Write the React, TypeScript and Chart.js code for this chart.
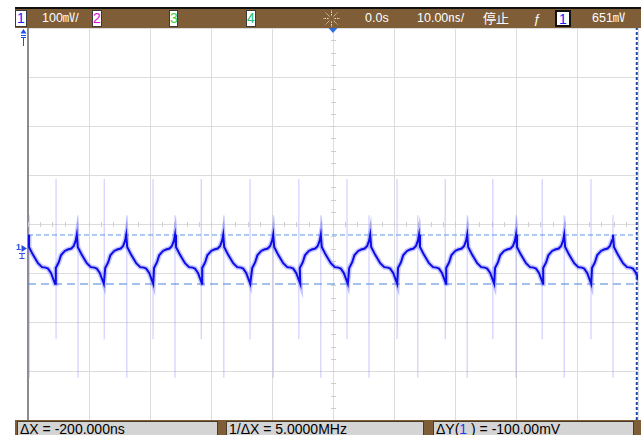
import React, { useEffect, useRef } from "react";
import { Chart, registerables } from "chart.js";

Chart.register(...registerables);

// Time axis in ns (10 ns/div), voltage axis in mV (100 mV/div)
const X_MIN = -50;
const X_MAX = 50;
const Y_MIN = -400;
const Y_MAX = 400;
const X_STEP = 10;
const Y_STEP = 100;

// Waveform: times of each peak (ns)
const peakTimes = [-50.0, -42.0, -33.9, -25.9, -18.0, -9.8, -2.0, 6.1, 14.1, 22.0, 30.0, 37.9, 45.9, 53.9];
// falling part after each peak (ns after peak, mV)
const fallOffsets = [0, 0.16, 0.82, 1.64, 2.3, 2.9, 3.28, 3.77, 4.43];
const fallValues = [-22, -47, -63, -80, -88, -89, -91, -100, -122];
// rising part before the next peak (ns before peak, mV)
const riseOffsets = [-3.44, -2.95, -2.6, -1.97, -1.48, -0.9, -0.5, -0.16];
const riseValues = [-90, -78, -64, -55, -52, -50, -45, -33];

// glitch spikes (ns) and their extent (mV)
const tallSpikeTimes = [-45.4, -37.5, -29.5, -21.6, -13.6, -5.6, 2.3, 10.5, 18.4, 26.2, 34.3, 42.3];
const tallSpikeTop = 92;
const tallSpikeBottom = -235;
const shortSpikeTimes = [-49.8, -41.8, -33.8, -25.9, -17.9, -9.8, -2.0, 5.9, 13.9, 22.0, 30.0, 37.9, 45.9];
const shortSpikeTop = 18;
const shortSpikeBottom = -314;

// cursors
const cursorY = [-22.4, -122.4];
const cursorX = 49.8;
const groundLevel = -53;

const BROWN = "#7e5d37";

const decor = {
  id: "decor",
  beforeDatasetsDraw(chart: any) {
    const { ctx } = chart;
    const xs = chart.scales.x;
    const ys = chart.scales.y;
    ctx.save();
    ctx.strokeStyle = "#cfcfcf";
    ctx.lineWidth = 1;
    const y0 = Math.round(ys.getPixelForValue(0)) + 0.5;
    for (let v = X_MIN; v <= X_MAX; v += 2) {
      const px = Math.round(xs.getPixelForValue(v)) + 0.5;
      ctx.beginPath();
      ctx.moveTo(px, y0 - 2.5);
      ctx.lineTo(px, y0 + 2.5);
      ctx.stroke();
    }
    const x0 = Math.round(xs.getPixelForValue(0)) + 0.5;
    for (let v = Y_MIN; v <= Y_MAX; v += 25) {
      const py = Math.round(ys.getPixelForValue(v)) + 0.5;
      ctx.beginPath();
      ctx.moveTo(x0 - 2.5, py);
      ctx.lineTo(x0 + 2.5, py);
      ctx.stroke();
    }
    ctx.restore();
  },
  afterDraw(chart: any) {
    const { ctx, chartArea } = chart;
    const xs = chart.scales.x;
    const ys = chart.scales.y;
    ctx.save();
    // trigger position marker
    const tx = xs.getPixelForValue(0);
    ctx.fillStyle = "#2a6fe0";
    ctx.beginPath();
    ctx.moveTo(tx - 4.5, chartArea.top);
    ctx.lineTo(tx + 4.5, chartArea.top);
    ctx.lineTo(tx, chartArea.top + 5);
    ctx.closePath();
    ctx.fill();
    // trigger level marker (top-left)
    ctx.fillStyle = "#1f4fe8";
    ctx.strokeStyle = "#1f4fe8";
    ctx.beginPath();
    ctx.moveTo(20.5, 33.5);
    ctx.lineTo(26.5, 33.5);
    ctx.lineTo(23.5, 29);
    ctx.closePath();
    ctx.fill();
    ctx.lineWidth = 1;
    ctx.beginPath();
    ctx.moveTo(21, 35.5);
    ctx.lineTo(26, 35.5);
    ctx.moveTo(21, 37.5);
    ctx.lineTo(26, 37.5);
    ctx.moveTo(23.5, 37.5);
    ctx.lineTo(23.5, 46);
    ctx.stroke();
    // channel 1 ground marker
    const gy = ys.getPixelForValue(groundLevel);
    ctx.fillStyle = "#2a4fe0";
    ctx.font = "bold 9px 'Liberation Sans'";
    ctx.textBaseline = "middle";
    ctx.fillText("1", 16, gy - 2);
    ctx.beginPath();
    ctx.moveTo(21.5, gy - 5);
    ctx.lineTo(27, gy - 1.5);
    ctx.lineTo(21.5, gy + 2);
    ctx.closePath();
    ctx.fill();
    ctx.strokeStyle = "#2a4fe0";
    ctx.beginPath();
    ctx.moveTo(19, gy + 3.5);
    ctx.lineTo(25, gy + 3.5);
    ctx.moveTo(22, gy + 3.5);
    ctx.lineTo(22, gy + 8);
    ctx.moveTo(19.5, gy + 8.5);
    ctx.lineTo(24.5, gy + 8.5);
    ctx.stroke();
    ctx.restore();
  },
};

function buildTrace() {
  const pts: { x: number; y: number }[] = [];
  for (let i = 0; i < peakTimes.length; i++) {
    const p = peakTimes[i];
    fallOffsets.forEach((o, k) => pts.push({ x: p + o, y: fallValues[k] }));
    if (i + 1 < peakTimes.length) {
      const n = peakTimes[i + 1];
      riseOffsets.forEach((o, k) => pts.push({ x: n + o, y: riseValues[k] }));
    }
  }
  return pts;
}

function spikes(times: number[], top: number, bottom: number) {
  const pts: { x: number; y: number | null }[] = [];
  times.forEach((t) => {
    pts.push({ x: t, y: top });
    pts.push({ x: t, y: bottom });
    pts.push({ x: t, y: null });
  });
  return pts;
}

export default function App() {
  const ref = useRef<HTMLCanvasElement>(null);

  useEffect(() => {
    if (!ref.current) return;
    const trace = buildTrace();
    const line = (extra: any) => ({
      showLine: true,
      pointRadius: 0,
      fill: false,
      tension: 0,
      spanGaps: false,
      ...extra,
    });
    const chart = new Chart(ref.current, {
      type: "scatter",
      data: {
        datasets: [
          line({ data: trace, borderColor: "#0c0ce8", borderWidth: 2, order: 0 }),
          line({ data: trace, borderColor: "rgba(110,110,255,0.4)", borderWidth: 5, order: 1 }),
          line({
            data: [
              { x: X_MIN, y: cursorY[0] },
              { x: X_MAX, y: cursorY[0] },
            ],
            borderColor: "#5a98ea",
            borderWidth: 1,
            borderDash: [5, 3],
            order: 2,
          }),
          line({
            data: [
              { x: X_MIN, y: cursorY[1] },
              { x: X_MAX, y: cursorY[1] },
            ],
            borderColor: "#4a84dc",
            borderWidth: 1.2,
            borderDash: [8, 5],
            order: 2,
          }),
          line({
            data: [
              { x: cursorX, y: Y_MIN },
              { x: cursorX, y: Y_MAX },
            ],
            borderColor: "#1c4aa8",
            borderWidth: 2,
            borderDash: [3, 2],
            order: 2,
          }),
          line({
            data: spikes(tallSpikeTimes, tallSpikeTop, tallSpikeBottom),
            borderColor: "rgba(150,150,255,0.45)",
            borderWidth: 1.2,
            order: 3,
          }),
          line({
            data: spikes(shortSpikeTimes, shortSpikeTop, shortSpikeBottom),
            borderColor: "rgba(150,150,255,0.45)",
            borderWidth: 1.2,
            order: 3,
          }),
        ],
      },
      options: {
        animation: false,
        responsive: false,
        devicePixelRatio: 1,
        events: [],
        layout: { padding: { left: 28, top: 28, right: 3, bottom: 15 } },
        plugins: { legend: { display: false }, tooltip: { enabled: false } },
        scales: {
          x: {
            type: "linear",
            min: X_MIN,
            max: X_MAX,
            ticks: { display: false, stepSize: X_STEP },
            grid: { color: "#dcdcdc", lineWidth: 1, drawTicks: false },
            border: { display: false },
          },
          y: {
            type: "linear",
            min: Y_MIN,
            max: Y_MAX,
            ticks: { display: false, stepSize: Y_STEP },
            grid: { color: "#dcdcdc", lineWidth: 1, drawTicks: false },
            border: { display: true, color: "#8c8c8c", width: 2 },
          },
        },
      },
      plugins: [decor],
    });
    return () => chart.destroy();
  }, []);

  const font = "'Liberation Sans', 'Noto Sans CJK JP', sans-serif";
  const topText = (left: number, text: React.ReactNode, extra: any = {}) => (
    <span
      style={{
        position: "absolute",
        left,
        top: 9,
        height: 19,
        lineHeight: "19px",
        color: "#ffffff",
        fontFamily: font,
        fontSize: 12.5,
        whiteSpace: "nowrap",
        ...extra,
      }}
    >
      {text}
    </span>
  );
  const chBox = (left: number, width: number, label: string, color: string, border = "1px solid #3a3a3a") => (
    <div
      style={{
        position: "absolute",
        left,
        top: 10,
        width,
        height: 17,
        boxSizing: "border-box",
        border,
        background: "#ffffff",
        color,
        fontFamily: font,
        fontSize: 14,
        lineHeight: "15px",
        textAlign: "center",
      }}
    >
      {label}
    </div>
  );
  const botBox = (left: number, width: number, content: React.ReactNode) => (
    <div
      style={{
        position: "absolute",
        left,
        top: 421,
        width,
        height: 18,
        boxSizing: "border-box",
        border: "1px solid #4a3c2c",
        background: "#d4d4d4",
        color: "#000",
        fontFamily: font,
        fontSize: 14,
        lineHeight: "15px",
        paddingLeft: 2,
        whiteSpace: "nowrap",
      }}
    >
      {content}
    </div>
  );

  const rays = [0, 45, 90, 135, 180, 225, 270, 315];

  return (
    <div
      style={{
        position: "fixed",
        left: 0,
        top: 0,
        width: 641,
        height: 435,
        background: "#ffffff",
        overflow: "hidden",
      }}
    >
      <canvas ref={ref} width={641} height={435} style={{ position: "absolute", left: 0, top: 0 }} />
      {/* top status bar */}
      <div style={{ position: "absolute", left: 15, top: 7, width: 626, height: 2, background: "#111" }} />
      <div style={{ position: "absolute", left: 15, top: 9, width: 626, height: 19, background: BROWN }} />
      {chBox(15, 12, "1", "#2020ff")}
      {topText(42, "100㎷/")}
      {chBox(92, 10, "2", "#e010e0")}
      {chBox(169, 9, "3", "#40d040")}
      {chBox(246, 10, "4", "#20c070")}
      <svg style={{ position: "absolute", left: 322, top: 9 }} width={19} height={19}>
        {rays.map((a) => {
          const r = (a * Math.PI) / 180;
          return (
            <line
              key={a}
              x1={9.5 + Math.cos(r) * 3}
              y1={9.5 + Math.sin(r) * 3}
              x2={9.5 + Math.cos(r) * 8.5}
              y2={9.5 + Math.sin(r) * 8.5}
              stroke="#e8e2d6"
              strokeWidth={1}
              strokeDasharray="1.5 1"
            />
          );
        })}
      </svg>
      {topText(365, "0.0s")}
      {topText(417, "10.00㎱/")}
      {topText(483, "停止", { fontSize: 13 })}
      {topText(533, "ƒ", { fontStyle: "italic", fontSize: 13 })}
      {chBox(555, 16, "1", "#2020ff", "2px solid #111")}
      {topText(592, "651㎷")}
      {/* bottom measurement bar */}
      <div style={{ position: "absolute", left: 15, top: 420, width: 626, height: 15, background: BROWN }} />
      {botBox(17, 201, "ΔX = -200.000ns")}
      {botBox(226, 198, "1/ΔX = 5.0000MHz")}
      {botBox(
        433,
        201,
        <span>
          ΔY(<span style={{ color: "#1a3cf0" }}>1</span> ) = -100.00mV
        </span>
      )}
    </div>
  );
}
